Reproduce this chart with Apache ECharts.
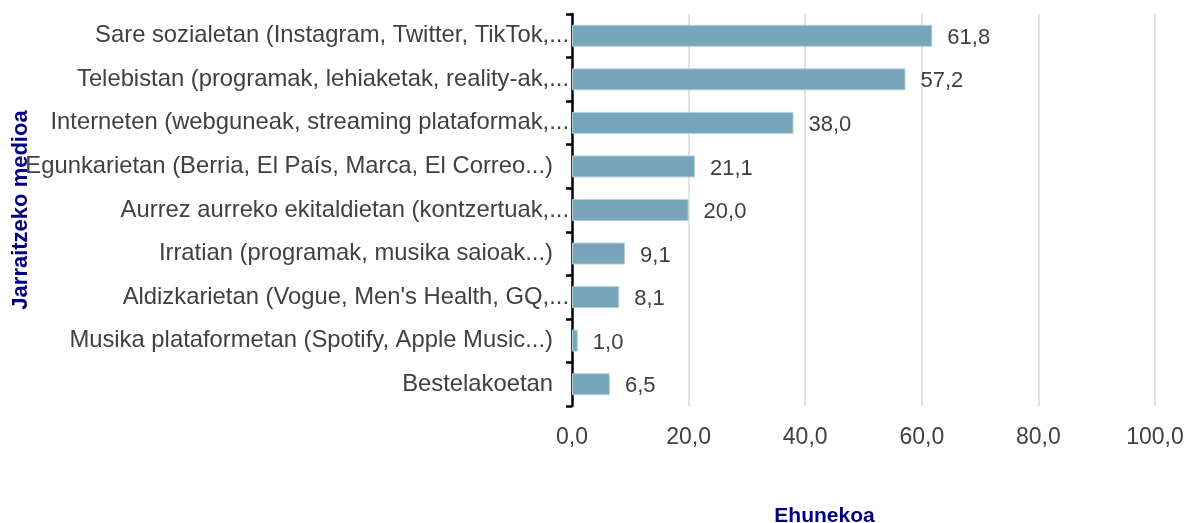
<!DOCTYPE html>
<html>
<head>
<meta charset="utf-8">
<script src="https://cdn.jsdelivr.net/npm/echarts@6/dist/echarts.min.js"></script>
<style>
  html, body { margin: 0; padding: 0; background: #fff; }
  #chart { width: 1194px; height: 523px; }
</style>
</head>
<body>
<div id="chart"></div>
<script>
// Jarraitzeko medioa / Ehunekoa
var categories = [
    'Sare sozialetan (Instagram, Twitter, TikTok,...',
    'Telebistan (programak, lehiaketak, reality-ak,...',
    'Interneten (webguneak, streaming plataformak,...',
    'Egunkarietan (Berria, El País, Marca, El Correo...)',
    'Aurrez aurreko ekitaldietan (kontzertuak,...',
    'Irratian (programak, musika saioak...)',
    'Aldizkarietan (Vogue, Men\'s Health, GQ,...',
    'Musika plataformetan (Spotify, Apple Music...)',
    'Bestelakoetan'
];
var values = [61.8, 57.2, 38.0, 21.1, 20.0, 9.1, 8.1, 1.0, 6.5];
var xTicks = [0, 20, 40, 60, 80, 100];

var fmt = function (v) { return Number(v).toFixed(1).replace('.', ','); };
var font = 'Arial, "Liberation Sans", sans-serif';

// cut-off labels run up to the axis line
var catData = categories.map(function (c) {
    if (c.slice(-4) === ',...') {
        return { value: c, textStyle: { padding: [0, -16, 0, 0] } };
    }
    return c;
});

var chart = echarts.init(document.getElementById('chart'));
var option = {
    backgroundColor: '#ffffff',
    animation: false,
    grid: {
        left: 572,
        right: 39,
        top: 14,
        bottom: 117,
        containLabel: false,
        outerBoundsMode: 'none'
    },
    xAxis: {
        type: 'value',
        min: xTicks[0],
        max: xTicks[xTicks.length - 1],
        interval: 20,
        name: 'Ehunekoa',
        nameLocation: 'middle',
        nameGap: 100,
        nameMoveOverlap: false,
        nameTextStyle: {
            color: '#000080',
            fontWeight: 'bold',
            fontSize: 21,
            fontFamily: font,
            padding: [0, 78, 0, 0]
        },
        axisLine: { show: false },
        axisTick: { show: false },
        axisLabel: {
            margin: 20,
            color: '#404040',
            fontSize: 23,
            fontFamily: font,
            formatter: fmt
        },
        splitLine: {
            show: true,
            lineStyle: { color: '#d9d9d9', width: 1.5 }
        }
    },
    yAxis: {
        type: 'category',
        inverse: true,
        data: catData,
        name: 'Jarraitzeko medioa',
        nameLocation: 'middle',
        nameGap: 540,
        nameMoveOverlap: false,
        nameRotate: 90,
        nameTextStyle: {
            color: '#000080',
            fontWeight: 'bold',
            fontSize: 22,
            fontFamily: font
        },
        axisLine: {
            show: true,
            lineStyle: { color: '#000000', width: 2.5 }
        },
        axisTick: {
            show: true,
            length: 6,
            lineStyle: { color: '#000000', width: 2.5 }
        },
        axisLabel: {
            margin: 19,
            color: '#404040',
            fontSize: 23.8,
            fontFamily: font
        },
        splitLine: { show: false }
    },
    series: [
        {
            type: 'bar',
            data: values,
            barWidth: 22,
            itemStyle: {
                color: '#77a5ba',
                borderColor: '#b5cfdb',
                borderWidth: 1
            },
            label: {
                show: true,
                position: 'right',
                distance: 15,
                offset: [0, 2],
                color: '#404040',
                fontSize: 22,
                fontFamily: font,
                formatter: function (p) { return fmt(p.value); }
            }
        }
    ]
};
chart.setOption(option);
</script>
</body>
</html>
